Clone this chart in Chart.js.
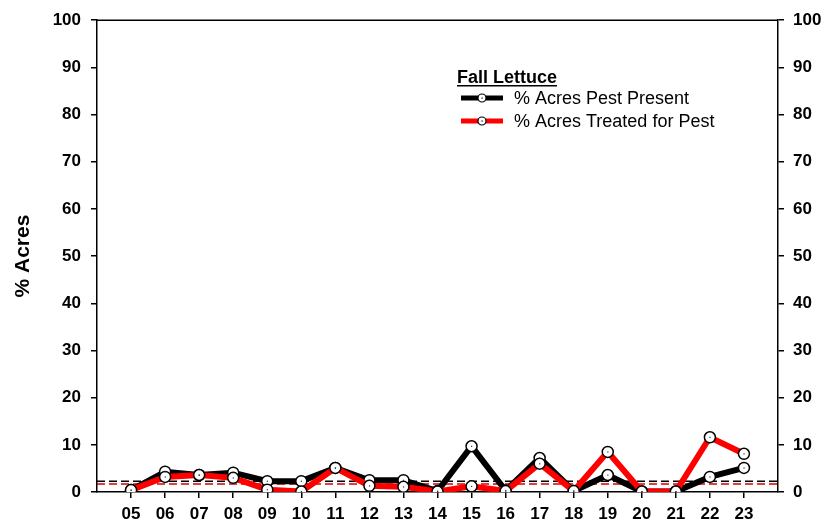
<!DOCTYPE html>
<html lang="en">
<head>
<meta charset="UTF-8">
<title>Fall Lettuce</title>
<style>
  body{margin:0;background:#fff}
  canvas{display:block}
</style>
</head>
<body>
<canvas id="chart" width="828" height="524"></canvas>
<script src="https://cdn.jsdelivr.net/npm/chart.js"></script>
<script>
// seasons (x categories)
const years = ['05','06','07','08','09','10','11','12','13','14','15','16','17','18','19','20','21','22','23']
// % acres pest present
const pestPresent = [0.4, 4.3, 3.6, 4.1, 2.3, 2.3, 5.1, 2.5, 2.5, 0.2, 9.7, 0.3, 7.2, 0.2, 3.6, 0.1, 0.1, 3.2, 5.1]
// % acres treated for pest
const treated = [0.4, 3.2, 3.6, 3.0, 0.5, 0.1, 5.1, 1.3, 1.1, 0.1, 1.2, 0.2, 6.0, 0.2, 8.5, 0.1, 0.1, 11.6, 8.1]
// long-term averages (dashed reference lines)
const pestMean = 2.3
const treatedMean = 1.7
const yTicks = [0,10,20,30,40,50,60,70,80,90,100]
const xMin = 4, xMax = 24

const FONT = 'Liberation Sans, Arial, sans-serif'

function pts(arr){ return arr.map((v,i)=>({x:parseInt(years[i],10), y:v})) }

// top frame line
const frame = {
  id:'frame',
  afterDraw(chart){
    const a = chart.chartArea, c = chart.ctx
    c.save()
    c.strokeStyle = '#000'; c.lineWidth = 1.5
    c.beginPath(); c.moveTo(a.left, a.top); c.lineTo(a.right, a.top); c.stroke()
    c.restore()
  }
}

// tiny dot in the middle of each marker
const dots = {
  id:'dots',
  afterDatasetsDraw(chart){
    const c = chart.ctx
    c.save(); c.fillStyle = '#333'
    ;[0,1].forEach(d=>{
      chart.getDatasetMeta(d).data.forEach(p=>{ c.fillRect(p.x-0.5, p.y-0.5, 1.2, 1.2) })
    })
    c.restore()
  }
}

// legend box inside the plot
const legendBox = {
  id:'legendBox',
  afterDraw(chart){
    const c = chart.ctx
    c.save()
    c.fillStyle = '#000'
    c.textBaseline = 'alphabetic'
    c.font = 'bold 18px ' + FONT
    c.fillText('Fall Lettuce', 457, 83)
    const w = c.measureText('Fall Lettuce').width
    c.fillRect(457, 85, w, 1.5)
    const rows = [['% Acres Pest Present','#000',98],['% Acres Treated for Pest','#ff0000',121]]
    rows.forEach(r=>{
      c.strokeStyle = r[1]; c.lineWidth = 5
      c.beginPath(); c.moveTo(461, r[2]); c.lineTo(503, r[2]); c.stroke()
      c.beginPath(); c.arc(482, r[2], 4, 0, Math.PI*2)
      c.fillStyle = '#fff'; c.fill()
      c.strokeStyle = '#000'; c.lineWidth = 1.2; c.stroke()
      c.fillStyle = '#000'; c.fillRect(481.5, r[2]-0.5, 1.2, 1.2)
      c.font = '18px ' + FONT
      c.textBaseline = 'middle'
      c.fillText(r[0], 514, r[2] + 1)
    })
    c.restore()
  }
}

const tickFont = {family:FONT, size:17, weight:'bold'}

new Chart(document.getElementById('chart'), {
  type:'line',
  data:{
    datasets:[
      {label:'% Acres Pest Present', data:pts(pestPresent), borderColor:'#000', borderWidth:6,
       pointRadius:5.5, pointBackgroundColor:'#fff', pointBorderColor:'#000', pointBorderWidth:1.5,
       tension:0, order:1},
      {label:'% Acres Treated for Pest', data:pts(treated), borderColor:'#ff0000', borderWidth:6,
       pointRadius:5.5, pointBackgroundColor:'#fff', pointBorderColor:'#000', pointBorderWidth:1.5,
       tension:0, order:0},
      {label:'pest mean', data:[{x:xMin,y:pestMean},{x:xMax,y:pestMean}], borderColor:'#000',
       borderWidth:1.5, borderDash:[8,4], pointRadius:0, order:3},
      {label:'treated mean', data:[{x:xMin,y:treatedMean},{x:xMax,y:treatedMean}], borderColor:'#d40000',
       borderWidth:1.5, borderDash:[8,4], pointRadius:0, order:2}
    ]
  },
  options:{
    responsive:false,
    animation:false,
    devicePixelRatio:1,
    layout:{padding:{top:18, right:0, left:0, bottom:0}},
    plugins:{legend:{display:false}, tooltip:{enabled:false}},
    scales:{
      x:{
        type:'linear', min:xMin, max:xMax,
        afterBuildTicks(s){ s.ticks = years.map(y=>({value:parseInt(y,10)})) },
        afterFit(s){ s.height = 32 },
        ticks:{font:tickFont, color:'#000', padding:6, maxRotation:0, autoSkip:false,
          callback:v=>String(v).padStart(2,'0')},
        grid:{drawOnChartArea:false, drawTicks:true, tickLength:6, color:'#000', lineWidth:1.5},
        border:{display:true, color:'#000', width:1.5}
      },
      y:{
        position:'left', min:0, max:100,
        afterBuildTicks(s){ s.ticks = yTicks.map(v=>({value:v})) },
        afterFit(s){ s.width = 97 },
        ticks:{font:tickFont, color:'#000', padding:10},
        grid:{drawOnChartArea:false, drawTicks:true, tickLength:6, color:'#000', lineWidth:1.5},
        border:{display:true, color:'#000', width:1.5},
        title:{display:true, text:'% Acres', color:'#000', font:{family:FONT, size:21, weight:'bold'}, padding:{top:11, bottom:0}}
      },
      y2:{
        position:'right', min:0, max:100,
        afterBuildTicks(s){ s.ticks = yTicks.map(v=>({value:v})) },
        afterFit(s){ s.width = 50 },
        ticks:{font:tickFont, color:'#000', padding:9},
        grid:{drawOnChartArea:false, drawTicks:true, tickLength:6, color:'#000', lineWidth:1.5},
        border:{display:true, color:'#000', width:1.5}
      }
    }
  },
  plugins:[frame, dots, legendBox]
})
</script>
</body>
</html>
